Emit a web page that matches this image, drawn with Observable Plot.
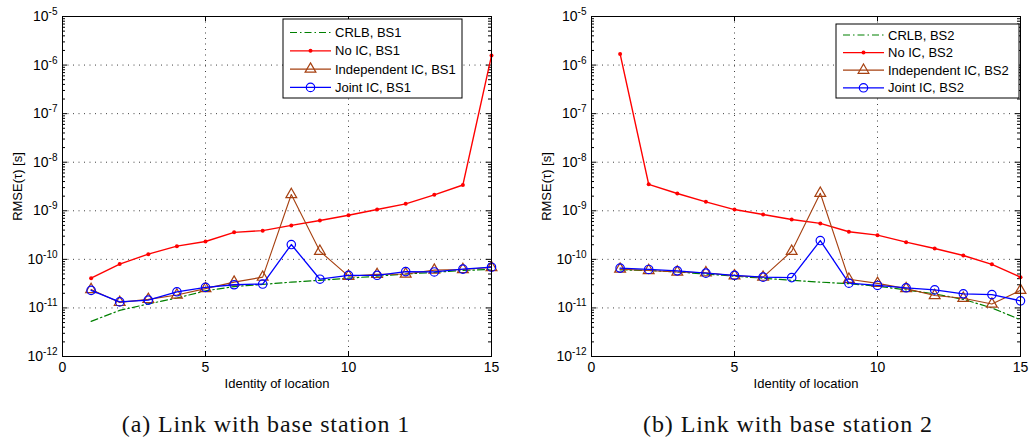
<!DOCTYPE html>
<html><head><meta charset="utf-8">
<script src="https://cdn.jsdelivr.net/npm/d3@7"></script>
<script src="https://cdn.jsdelivr.net/npm/@observablehq/plot@0.6"></script>
<style>
body{margin:0;background:#fff;}
#wrap{position:relative;width:1033px;height:443px;overflow:hidden;background:#fff;font-family:"Liberation Sans",Arial,sans-serif;}
#wrap svg{position:absolute;top:0;}
</style></head><body><div id="wrap"></div>
<script>
// ---------- data ----------
const locations = [1,2,3,4,5,6,7,8,9,10,11,12,13,14,15];

const crlbBS1  = [5.3e-12, 8.9e-12, 1.21e-11, 1.6e-11, 2.25e-11, 2.75e-11, 3.05e-11, 3.4e-11, 3.7e-11, 4.1e-11, 4.5e-11, 5.0e-11, 5.4e-11, 5.9e-11, 6.2e-11];
const noIcBS1  = [4.1e-11, 8.0e-11, 1.28e-10, 1.87e-10, 2.33e-10, 3.6e-10, 3.9e-10, 5.0e-10, 6.3e-10, 8.1e-10, 1.06e-9, 1.39e-9, 2.13e-9, 3.4e-9, 1.57e-6];
const indepBS1 = [2.4e-11, 1.3e-11, 1.5e-11, 1.85e-11, 2.5e-11, 3.4e-11, 4.3e-11, 2.16e-9, 1.47e-10, 4.5e-11, 4.9e-11, 5.0e-11, 6.0e-11, 6.2e-11, 6.8e-11];
const jointBS1 = [2.3e-11, 1.33e-11, 1.45e-11, 2.15e-11, 2.65e-11, 3.0e-11, 3.1e-11, 2.02e-10, 3.9e-11, 4.7e-11, 4.7e-11, 5.6e-11, 5.5e-11, 6.3e-11, 6.9e-11];

const crlbBS2  = [6.1e-11, 5.9e-11, 5.5e-11, 5.0e-11, 4.5e-11, 4.1e-11, 3.7e-11, 3.4e-11, 3.15e-11, 2.8e-11, 2.35e-11, 1.95e-11, 1.5e-11, 1.0e-11, 5.7e-12];
const noIcBS2  = [1.7e-6, 3.5e-9, 2.27e-9, 1.53e-9, 1.06e-9, 8.4e-10, 6.6e-10, 5.5e-10, 3.7e-10, 3.15e-10, 2.26e-10, 1.67e-10, 1.2e-10, 7.9e-11, 4.3e-11];
const indepBS2 = [6.3e-11, 5.9e-11, 5.5e-11, 5.3e-11, 4.6e-11, 4.3e-11, 1.47e-10, 2.3e-9, 3.9e-11, 3.2e-11, 2.5e-11, 1.8e-11, 1.58e-11, 1.2e-11, 2.3e-11];
const jointBS2 = [6.6e-11, 6.2e-11, 5.8e-11, 5.2e-11, 4.7e-11, 4.3e-11, 4.2e-11, 2.44e-10, 3.24e-11, 2.9e-11, 2.6e-11, 2.35e-11, 1.95e-11, 1.88e-11, 1.4e-11];

const xTicks = [0, 5, 10, 15];
const xGrid = [5, 10];
const yExponents = [-12, -11, -10, -9, -8, -7, -6, -5];
const xLabel = "Identity of location";
const yLabel = "RMSE(τ) [s]";
const captions = ["(a) Link with base station 1", "(b) Link with base station 2"];
const seriesNames = ["CRLB", "No IC", "Independent IC", "Joint IC"];

// ---------- styling ----------
const COLORS = {crlb: "#008000", noic: "#ff0000", indep: "#a64010", joint: "#0000ff"};
const DASH = "7,3,1.5,3";
const H = 400, MT = 16, MB = 44;
const plotH = H - MT - MB;
const SANS = "'Liberation Sans', Arial, sans-serif";

const yMajor = yExponents.map(e => Math.pow(10, e));
const yGridVals = yMajor.slice(1, -1);
const minor = [];
for (let e = -12; e < -5; e++) for (let m = 2; m < 10; m++) minor.push(m * Math.pow(10, e));

function rows(vals) { return locations.map((x, i) => ({x, v: vals[i]})); }

function panel(cfg) {
  const plotW = cfg.width - cfg.ml - cfg.mr;
  const tk = {stroke: "#000", strokeWidth: 1};
  const grid = {stroke: "#000", strokeOpacity: 0.75, strokeDasharray: "1,4.5", strokeWidth: 1};
  const svg = Plot.plot({
    width: cfg.width, height: H,
    marginLeft: cfg.ml, marginRight: cfg.mr, marginTop: MT, marginBottom: MB,
    style: {fontFamily: SANS, fontSize: "13px", color: "#000", background: "transparent", overflow: "visible"},
    x: {domain: [0, 15], label: null},
    y: {type: "log", domain: [1e-12, 1e-5], label: null},
    marks: [
      Plot.gridX(xGrid, grid),
      Plot.gridY(yGridVals, grid),
      Plot.tickX(xTicks, {x: d => d, insetTop: plotH - 5, ...tk}),
      Plot.tickX(xTicks, {x: d => d, insetBottom: plotH - 5, ...tk}),
      Plot.tickY(yMajor, {y: d => d, insetRight: plotW - 5, ...tk}),
      Plot.tickY(yMajor, {y: d => d, insetLeft: plotW - 5, ...tk}),
      Plot.tickY(minor, {y: d => d, insetRight: plotW - 3, ...tk}),
      Plot.tickY(minor, {y: d => d, insetLeft: plotW - 3, ...tk}),
      Plot.axisX(xTicks, {tickSize: 0, tickPadding: 6, fontSize: 14, label: null}),
      Plot.axisY(yMajor, {tickSize: 0, tickPadding: 5, fontSize: 14, label: null,
        tickFormat: d => "10^" + Math.round(Math.log10(d))}),
      Plot.line(rows(cfg.crlb), {x: "x", y: "v", stroke: COLORS.crlb, strokeWidth: 1.2, strokeDasharray: DASH}),
      Plot.line(rows(cfg.noic), {x: "x", y: "v", stroke: COLORS.noic, strokeWidth: 1.4}),
      Plot.dot(rows(cfg.noic), {x: "x", y: "v", r: 2, fill: COLORS.noic}),
      Plot.line(rows(cfg.indep), {x: "x", y: "v", stroke: COLORS.indep, strokeWidth: 1.1}),
      Plot.dot(rows(cfg.indep), {x: "x", y: "v", symbol: "triangle", r: 4, stroke: COLORS.indep, strokeWidth: 1.2, fill: "none"}),
      Plot.line(rows(cfg.joint), {x: "x", y: "v", stroke: COLORS.joint, strokeWidth: 1.3}),
      Plot.dot(rows(cfg.joint), {x: "x", y: "v", r: 4.2, stroke: COLORS.joint, strokeWidth: 1.2, fill: "none"}),
      Plot.frame({stroke: "#000", strokeWidth: 1}),
      Plot.text([xLabel], {text: d => d, frameAnchor: "bottom", dy: 27, fontSize: 13, lineAnchor: "middle", textAnchor: "middle"}),
      Plot.text([yLabel], {text: d => d, frameAnchor: "left", dx: -45, rotate: -90, fontSize: 13, lineAnchor: "middle", textAnchor: "middle"})
    ]
  });
  svg.style.left = cfg.left + "px";

  // exponent formatting of y tick labels
  d3.select(svg).selectAll('g[aria-label="y-axis tick label"] text').each(function() {
    const t = d3.select(this);
    const s = t.text();
    const exp = s.split("^")[1];
    t.text(null);
    t.append("tspan").text("10");
    t.append("tspan").attr("dy", "-0.6em").attr("font-size", "10px").text(exp);
  });

  // legend
  const L = cfg.legend;
  const g = d3.select(svg).append("g").attr("transform", `translate(${L.x},${L.y})`)
    .attr("font-family", SANS).attr("font-size", 13).attr("text-anchor", "start");
  g.append("rect").attr("width", L.w).attr("height", L.h).attr("fill", "#fff").attr("stroke", "#000").attr("stroke-width", 1);
  const styles = [
    {c: COLORS.crlb, dash: DASH, m: null},
    {c: COLORS.noic, m: "dot"},
    {c: COLORS.indep, m: "tri"},
    {c: COLORS.joint, m: "circ"}
  ];
  seriesNames.forEach((name, i) => {
    const yy = L.row0 + i * L.step;
    const st = styles[i];
    g.append("line").attr("x1", 7).attr("x2", 48).attr("y1", yy).attr("y2", yy)
      .attr("stroke", st.c).attr("stroke-width", 1.2).attr("stroke-dasharray", st.dash || null);
    if (st.m === "dot") g.append("circle").attr("cx", 27.5).attr("cy", yy).attr("r", 2).attr("fill", st.c);
    if (st.m === "circ") g.append("circle").attr("cx", 27.5).attr("cy", yy).attr("r", 4.2).attr("fill", "none").attr("stroke", st.c).attr("stroke-width", 1.2);
    if (st.m === "tri") g.append("path").attr("transform", `translate(27.5,${yy})`)
      .attr("d", d3.symbol(d3.symbolTriangle, 50)()).attr("fill", "none").attr("stroke", st.c).attr("stroke-width", 1.2);
    g.append("text").attr("x", 52).attr("y", yy).attr("dy", "0.35em").attr("text-anchor", "start")
      .attr("fill", "#000").text(name + ", " + cfg.bs);
  });
  return svg;
}

const wrap = document.getElementById("wrap");
wrap.appendChild(panel({left: 0, width: 516, ml: 62, mr: 25, bs: "BS1",
  crlb: crlbBS1, noic: noIcBS1, indep: indepBS1, joint: jointBS1,
  legend: {x: 283, y: 19, w: 179, h: 79, row0: 13.5, step: 18.3}}));
wrap.appendChild(panel({left: 516, width: 517, ml: 75, mr: 13, bs: "BS2",
  crlb: crlbBS2, noic: noIcBS2, indep: indepBS2, joint: jointBS2,
  legend: {x: 320, y: 24, w: 183, h: 74, row0: 11, step: 17.6}}));

// captions
const cap = d3.select(wrap).append("svg").attr("width", 1033).attr("height", 443).style("left", "0px").style("pointer-events", "none");
[266, 788].forEach((cx, i) => {
  cap.append("text").attr("x", cx).attr("y", 432).attr("text-anchor", "middle")
    .attr("font-family", "'Liberation Serif', 'Times New Roman', serif").attr("font-size", 24)
    .attr("letter-spacing", "0.9px").attr("fill", "#111").text(captions[i]);
});
</script></body></html>
